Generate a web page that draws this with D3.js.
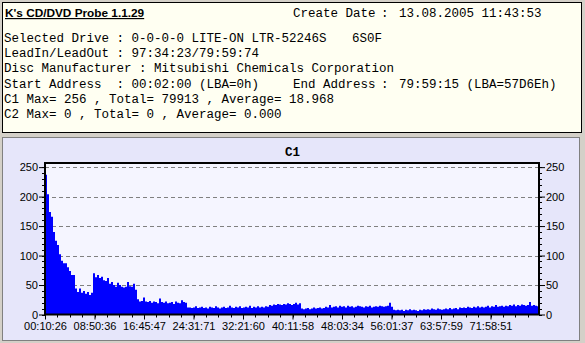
<!DOCTYPE html>
<html>
<head>
<meta charset="utf-8">
<script src="https://cdn.jsdelivr.net/npm/d3@7"></script>
<style>
  body { margin: 0; background: #d4d0c8; }
  svg { display: block; }
  .mono { font-family: "Liberation Mono", "DejaVu Sans Mono", monospace; font-size: 12.5px; fill: #000; white-space: pre; }
  .axis text { font-family: "Liberation Sans", Arial, sans-serif; font-size: 11px; fill: #000; }
</style>
</head>
<body>
<div id="chart"></div>
<script>
// C1 error counts per sample
var c1Values = [
  237, 204, 174, 166, 140, 125, 118, 102, 91, 87,
  87, 80, 74, 67, 67, 44, 38, 44, 37, 40,
  35, 38, 33, 37, 70, 63, 67, 62, 64, 58,
  57, 62, 52, 55, 50, 47, 54, 50, 47, 46,
  47, 55, 48, 47, 52, 42, 26, 22, 23, 29,
  22, 21, 23, 20, 22, 21, 19, 27, 21, 20,
  22, 19, 20, 21, 18, 22, 20, 19, 24, 21,
  20, 12, 12, 11, 12, 14, 11, 12, 13, 11,
  12, 10, 13, 12, 11, 14, 12, 10, 12, 13,
  11, 12, 15, 12, 11, 13, 12, 14, 11, 12,
  13, 12, 15, 11, 13, 12, 14, 12, 13, 12,
  14, 13, 16, 15, 17, 16, 18, 17, 16, 18,
  17, 19, 18, 16, 18, 20, 17, 19, 10, 9,
  10, 11, 9, 10, 12, 10, 11, 12, 10, 11,
  13, 12, 16, 12, 13, 14, 12, 15, 13, 14,
  12, 15, 13, 14, 12, 13, 15, 14, 13, 12,
  14, 13, 15, 12, 13, 14, 13, 15, 14, 13,
  14, 15, 20, 13, 8, 7, 8, 7, 8, 6,
  8, 7, 9, 7, 8, 7, 6, 8, 7, 9,
  8, 9, 8, 10, 9, 8, 10, 9, 8, 9,
  10, 9, 11, 9, 10, 11, 9, 12, 11, 12,
  11, 13, 12, 11, 13, 12, 14, 12, 13, 12,
  13, 15, 12, 14, 13, 16, 13, 14, 15, 13,
  15, 14, 16, 15, 17, 14, 16, 15, 17, 16,
  15, 16, 21, 15, 16, 15, 14
];
var timeLabels = ["00:10:26", "08:50:36", "16:45:47", "24:31:71", "32:21:60",
                  "40:11:58", "48:03:34", "56:01:37", "63:57:59", "71:58:51"];
var yTicks = [0, 50, 100, 150, 200, 250];
var chartTitle = "C1";
var appTitle = "K's CD/DVD Probe 1.1.29";
var infoLeft = [
  "Selected Drive : 0-0-0-0 LITE-ON LTR-52246S",
  "LeadIn/LeadOut : 97:34:23/79:59:74",
  "Disc Manufacturer : Mitsubishi Chemicals Corporation",
  "Start Address  : 00:02:00 (LBA=0h)",
  "C1 Max= 256 , Total= 79913 , Average= 18.968",
  "C2 Max= 0 , Total= 0 , Average= 0.000"
];
var createDate = ["Create Date", ":", "13.08.2005 11:43:53"];
var endAddress = ["End Address", ":", "79:59:15 (LBA=57D6Eh)"];
var firmware = "6S0F";

var width = 585, height = 343;
var svg = d3.select("#chart").append("svg")
    .attr("width", width)
    .attr("height", height);

// top info panel
svg.append("rect")
    .attr("x", 2.5).attr("y", 2.5)
    .attr("width", 579).attr("height", 130)
    .attr("fill", "#fffff2")
    .attr("stroke", "#000");

svg.append("text")
    .attr("x", 5).attr("y", 17)
    .style("font-family", "Liberation Sans, Arial, sans-serif")
    .style("font-size", "11.8px")
    .style("font-weight", "bold")
    .style("text-decoration", "underline")
    .text(appTitle);

svg.append("text").attr("class", "mono").attr("x", 293).attr("y", 17).text(createDate[0]);
svg.append("text").attr("class", "mono").attr("x", 381).attr("y", 17).text(createDate[1]);
svg.append("text").attr("class", "mono").attr("x", 399).attr("y", 17).text(createDate[2]);

svg.selectAll("text.info")
    .data(infoLeft)
    .enter()
    .append("text")
    .attr("class", "mono info")
    .attr("x", 4)
    .attr("y", function (d, i) { return 42 + i * 15.2; })
    .text(function (d) { return d; });

svg.append("text").attr("class", "mono").attr("x", 352).attr("y", 42).text(firmware);
svg.append("text").attr("class", "mono").attr("x", 293).attr("y", 42 + 3 * 15.2).text(endAddress[0]);
svg.append("text").attr("class", "mono").attr("x", 381).attr("y", 42 + 3 * 15.2).text(endAddress[1]);
svg.append("text").attr("class", "mono").attr("x", 399).attr("y", 42 + 3 * 15.2).text(endAddress[2]);

// lower chart panel
svg.append("rect")
    .attr("x", 2.5).attr("y", 137.5)
    .attr("width", 577).attr("height", 203)
    .attr("fill", "#e6e6fa")
    .attr("stroke", "#808080");

var margin = { left: 45, right: 539, top: 163, bottom: 314.5 };
var N = c1Values.length;

var x = d3.scaleLinear().domain([0, N]).range([margin.left, margin.right]);
var y = d3.scaleLinear().domain([0, 257]).range([margin.bottom, margin.top]);

svg.append("rect")
    .attr("x", margin.left).attr("y", margin.top)
    .attr("width", margin.right - margin.left)
    .attr("height", margin.bottom - margin.top)
    .attr("fill", "#f5f5ff");

svg.append("text")
    .attr("x", (margin.left + margin.right) / 2 + 0.5)
    .attr("y", 156)
    .attr("text-anchor", "middle")
    .style("font-family", "Liberation Mono, monospace")
    .style("font-size", "12.5px")
    .style("font-weight", "bold")
    .text(chartTitle);

// grid
svg.append("g")
    .selectAll("line")
    .data(yTicks.filter(function (d) { return d > 0; }))
    .enter()
    .append("line")
    .attr("x1", margin.left).attr("x2", margin.right)
    .attr("y1", function (d) { return Math.round(y(d)) + 0.5; })
    .attr("y2", function (d) { return Math.round(y(d)) + 0.5; })
    .attr("stroke", "#808080")
    .attr("stroke-dasharray", "4,3");

// data
var points = c1Values.map(function (v, i) { return [i, v]; });
points.push([N, c1Values[N - 1]]);
var area = d3.area()
    .curve(d3.curveStepAfter)
    .x(function (d) { return x(d[0]); })
    .y0(y(0))
    .y1(function (d) { return y(d[1]); });
svg.append("path")
    .datum(points)
    .attr("d", area)
    .attr("fill", "#0000ff");

// frame
svg.append("rect")
    .attr("x", margin.left).attr("y", margin.top)
    .attr("width", margin.right - margin.left)
    .attr("height", margin.bottom - margin.top)
    .attr("fill", "none")
    .attr("stroke", "#000")
    .attr("stroke-width", 2);

// y axes
var yMinor = d3.range(0, 251, 10);
var leftAxis = d3.axisLeft(y).tickValues(yTicks).tickSize(6).tickPadding(1);
var gl = svg.append("g").attr("class", "axis").attr("transform", "translate(" + margin.left + ",0)").call(leftAxis);
gl.select(".domain").remove();
gl.selectAll(".tick line").attr("stroke", "#000");
var rightAxis = d3.axisRight(y).tickValues(yTicks).tickSize(6).tickPadding(1);
var gr = svg.append("g").attr("class", "axis").attr("transform", "translate(" + margin.right + ",0)").call(rightAxis);
gr.select(".domain").remove();
gr.selectAll(".tick line").attr("stroke", "#000");

svg.append("g").selectAll("line")
    .data(yMinor)
    .enter().append("line")
    .attr("x1", margin.left - 3).attr("x2", margin.left)
    .attr("y1", function (d) { return Math.round(y(d)) + 0.5; })
    .attr("y2", function (d) { return Math.round(y(d)) + 0.5; })
    .attr("stroke", "#000");
svg.append("g").selectAll("line")
    .data(yMinor)
    .enter().append("line")
    .attr("x1", margin.right).attr("x2", margin.right + 3)
    .attr("y1", function (d) { return Math.round(y(d)) + 0.5; })
    .attr("y2", function (d) { return Math.round(y(d)) + 0.5; })
    .attr("stroke", "#000");

// x axis: one label every 49.5 px of the 494 px wide plot
var labelStep = N * 49.5 / (margin.right - margin.left);
var labelPos = timeLabels.map(function (d, i) { return i * labelStep; });
var bottomAxis = d3.axisBottom(x)
    .tickValues(labelPos)
    .tickFormat(function (d, i) { return timeLabels[i]; })
    .tickSize(5)
    .tickPadding(3);
var gb = svg.append("g").attr("class", "axis").attr("transform", "translate(0," + margin.bottom + ")").call(bottomAxis);
gb.select(".domain").remove();
gb.selectAll(".tick line").attr("stroke", "#000");

var xMinor = d3.range(0, N, labelStep / 4);
svg.append("g").selectAll("line")
    .data(xMinor)
    .enter().append("line")
    .attr("x1", function (d) { return Math.round(x(d)) + 0.5; })
    .attr("x2", function (d) { return Math.round(x(d)) + 0.5; })
    .attr("y1", margin.bottom).attr("y2", margin.bottom + 3)
    .attr("stroke", "#000");
</script>
</body>
</html>
